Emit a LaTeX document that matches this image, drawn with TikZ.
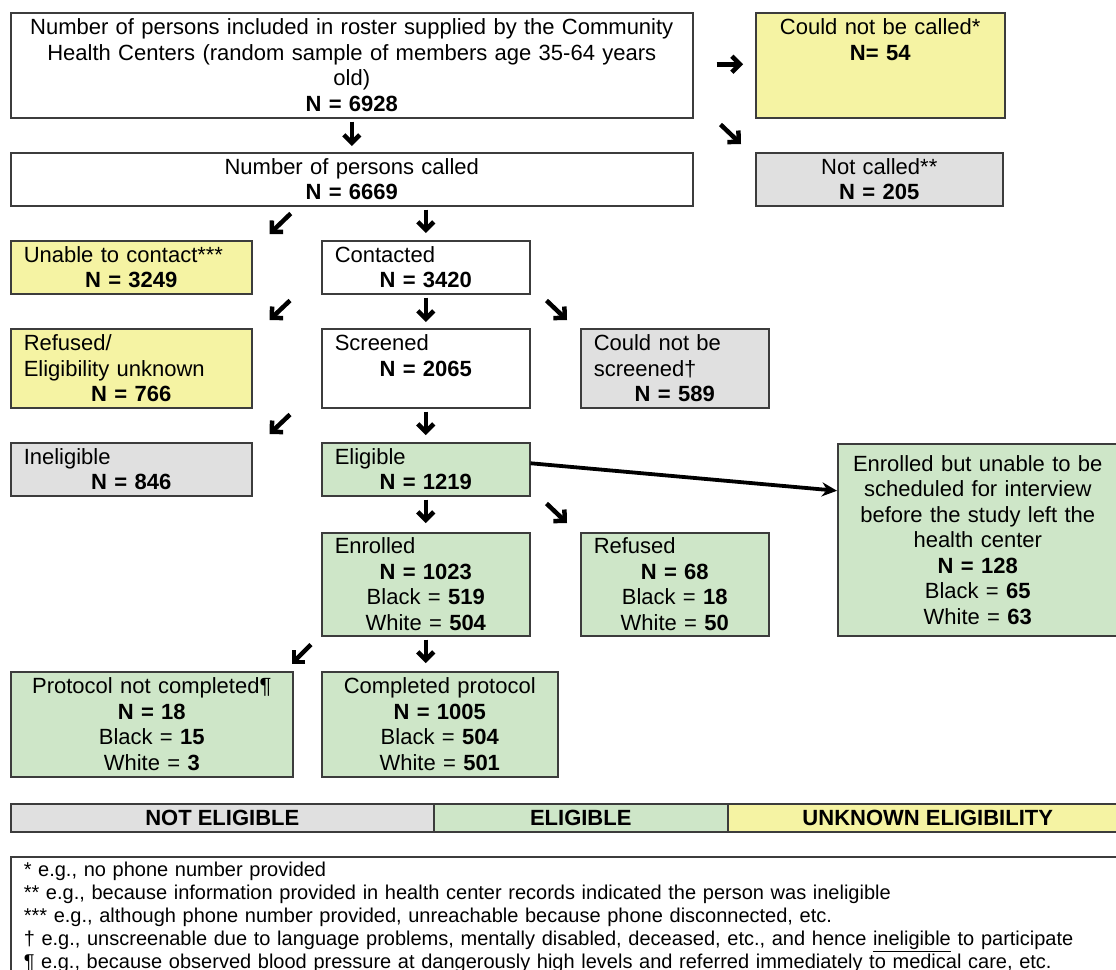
\documentclass[tikz,border=0pt]{standalone}
\usepackage{fontspec}
\setmainfont{Liberation Sans}
\usetikzlibrary{arrows.meta}

\definecolor{unkyellow}{RGB}{245,243,163}
\definecolor{notgray}{RGB}{224,224,224}
\definecolor{eliggreen}{RGB}{206,230,200}
\definecolor{boxline}{RGB}{60,60,60}

\newcommand{\lft}[1]{\makebox[\hsize][l]{#1}}

\tikzstyle{box} = [draw=boxline, line width=1.5pt, anchor=north west, inner xsep=13pt, inner ysep=2pt, align=center, font=\fontsize{22}{25.5}\selectfont]
\tikzstyle{legend} = [draw=boxline, line width=1.5pt, anchor=north west, minimum height=28pt, inner sep=0pt, font=\fontsize{22}{24}\selectfont\bfseries]
\tikzstyle{glyph} = [line width=4.5pt, -{Straight Barb[length=8pt,width=16pt,line width=4.5pt]}]
\tikzstyle{long} = [line width=3.8pt, -{Stealth[length=15pt,width=14pt]}]

\begin{document}
\begin{tikzpicture}[x=1pt, y=-1pt]
        \useasboundingbox (0,0) rectangle (1116,969);
        \fill[white] (0,0) rectangle (1116,969);

        % Boxes, top to bottom
        \node[box, text width=656, minimum height=105] (roster) at (10,12)
          {Number of persons included in roster supplied by the Community\\ Health Centers (random sample of members age 35-64 years\\ old)\\ \textbf{N = 6928}};
        \node[box, fill=unkyellow, text width=223, minimum height=105] (nocall) at (755,12)
          {Could not be called*\\ \textbf{N= 54}\\ ~\\ ~};
        \node[box, text width=656, minimum height=53] (called) at (10,152)
          {Number of persons called\\ \textbf{N = 6669}};
        \node[box, fill=notgray, text width=221, minimum height=53] (notcalled) at (755,152)
          {Not called**\\ \textbf{N = 205}};
        \node[box, fill=unkyellow, text width=215, minimum height=53] (unable) at (10,240)
          {\lft{Unable to contact***}\\ \textbf{N = 3249}};
        \node[box, text width=182, minimum height=53] (contacted) at (321,240)
          {\lft{Contacted}\\ \textbf{N = 3420}};
        \node[box, fill=unkyellow, text width=215, minimum height=79] (refunk) at (10,328)
          {\lft{Refused/}\\ \lft{Eligibility unknown}\\ \textbf{N = 766}};
        \node[box, text width=182, minimum height=79] (screened) at (321,328)
          {\lft{Screened}\\ \textbf{N = 2065}\\ ~};
        \node[box, fill=notgray, text width=162, minimum height=79] (noscreen) at (580,328)
          {\lft{Could not be}\\ \lft{screened†}\\ \textbf{N = 589}};
        \node[box, fill=notgray, text width=215, minimum height=53] (inelig) at (10,442)
          {\lft{Ineligible}\\ \textbf{N = 846}};
        \node[box, fill=eliggreen, text width=182, minimum height=53] (elig) at (321,442)
          {\lft{Eligible}\\ \textbf{N = 1219}};
        \node[box, fill=eliggreen, text width=254, minimum height=192] (unsched) at (837,443)
          {Enrolled but unable to be\\ scheduled for interview\\ before the study left the\\ health center\\ \textbf{N = 128}\\ Black = \textbf{65}\\ White = \textbf{63}};
        \node[box, fill=eliggreen, text width=182, minimum height=103] (enrolled) at (321,532)
          {\lft{Enrolled}\\ \textbf{N = 1023}\\ Black = \textbf{519}\\ White = \textbf{504}};
        \node[box, fill=eliggreen, text width=162, minimum height=103] (refused) at (580,532)
          {\lft{Refused}\\ \textbf{N = 68}\\ Black = \textbf{18}\\ White = \textbf{50}};
        \node[box, fill=eliggreen, text width=256, minimum height=105] (notdone) at (10,671)
          {Protocol not completed¶\\ \textbf{N = 18}\\ Black = \textbf{15}\\ White = \textbf{3}};
        \node[box, fill=eliggreen, text width=210, minimum height=105] (done) at (321,671)
          {Completed protocol\\ \textbf{N = 1005}\\ Black = \textbf{504}\\ White = \textbf{501}};

        % Arrows
        \draw[glyph] ([shift={(23,-1)}]roster.east) -- ([shift={(-12,-1)}]nocall.west);
        \draw[glyph] ([shift={(0,3)}]roster.south) -- ([shift={(0,-6)}]called.north);
        \draw[glyph] ([shift={(27,6)}]roster.south east) -- ([shift={(-14,-8)}]notcalled.north west);
        \draw[glyph] ([shift={(-61,7)}]called.south) -- ([shift={(17,-6)}]unable.north east);
        \draw[glyph] ([shift={(0,3)}]called.south -| contacted.north) -- ([shift={(0,-7)}]contacted.north);
        \draw[glyph] ([shift={(-31,6)}]contacted.south west) -- ([shift={(17,-8)}]refunk.north east);
        \draw[glyph] ([shift={(0,3)}]contacted.south) -- ([shift={(0,-6)}]screened.north);
        \draw[glyph] ([shift={(16,6)}]contacted.south east) -- ([shift={(-13,-8)}]noscreen.north west);
        \draw[glyph] ([shift={(-31,6)}]screened.south west) -- ([shift={(17,-8)}]inelig.north east);
        \draw[glyph] ([shift={(0,3)}]screened.south) -- ([shift={(0,-7)}]elig.north);
        \draw[long] ([shift={(0,-6)}]elig.east) -- ([shift={(0,-49)}]unsched.west);
        \draw[glyph] ([shift={(0,3)}]elig.south) -- ([shift={(0,-9)}]enrolled.north);
        \draw[glyph] ([shift={(16,7)}]elig.south east) -- ([shift={(-13,-9)}]refused.north west);
        \draw[glyph] ([shift={(-10,8)}]enrolled.south west) -- ([shift={(-2,-7)}]notdone.north east);
        \draw[glyph] ([shift={(0,3)}]enrolled.south) -- ([shift={(0,-8)}]enrolled.south |- done.north);

        % Legend
        \node[legend, fill=notgray, minimum width=423] (notelig) at (10,803) {NOT ELIGIBLE};
        \node[legend, fill=eliggreen, minimum width=294] (eligbar) at (433,803) {ELIGIBLE};
        \node[legend, fill=unkyellow, minimum width=400] (unkbar) at (727,803) {UNKNOWN ELIGIBILITY};

        % Footnotes
        \node[draw=boxline, line width=1.5pt, anchor=north west, align=left, text width=1110, inner xsep=13pt, inner ysep=5pt, font=\fontsize{20}{23}\selectfont] (notes) at (10,856)
          {* e.g., no phone number provided\\{}
           ** e.g., because information provided in health center records indicated the person was ineligible\\{}
           *** e.g., although phone number provided, unreachable because phone disconnected, etc.\\
           † e.g., unscreenable due to language problems, mentally disabled, deceased, etc., and hence \underline{ineligible} to participate\\
           ¶ e.g., because observed blood pressure at dangerously high levels and referred immediately to medical care, etc.};
\end{tikzpicture}
\end{document}
